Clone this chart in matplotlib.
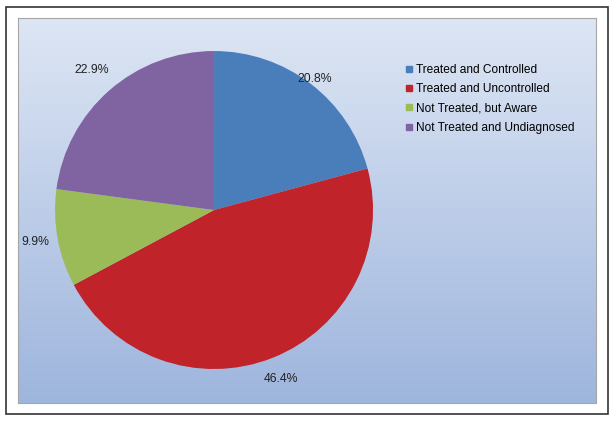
import numpy as np
import matplotlib
matplotlib.use("Agg")
import matplotlib.pyplot as plt
from matplotlib.patches import Rectangle
from matplotlib.lines import Line2D

plt.rcParams['font.family'] = ['Liberation Sans', 'DejaVu Sans']

categories = ["Treated and Controlled", "Treated and Uncontrolled",
              "Not Treated, but Aware", "Not Treated and Undiagnosed"]
values = [20.8, 46.4, 9.9, 22.9]
colors = ["#4a7ebb", "#c0232a", "#9bbb59", "#8064a2"]
label_dist = [1.04, 1.14, 1.14, 1.17]

fig = plt.figure(figsize=(6.14, 4.21), dpi=100)

# outer frame
fig.patches.append(Rectangle((0.0098, 0.0166), 0.980, 0.9667, transform=fig.transFigure,
                             fill=False, edgecolor="#333333", linewidth=1.2))

# gradient panel
bg = fig.add_axes([0.0293, 0.0428, 0.9414, 0.9145])
grad = np.linspace(0, 1, 256).reshape(-1, 1)
top = np.array([0.867, 0.902, 0.957])
bot = np.array([0.620, 0.710, 0.867])
img = top + (bot - top) * grad[:, :, None]
bg.imshow(img, aspect="auto", extent=[0, 1, 0, 1])
bg.set_xticks([])
bg.set_yticks([])
for s in bg.spines.values():
    s.set_edgecolor("#a6a6a6")
    s.set_linewidth(0.8)

ax = fig.add_axes([0.0896, 0.1235, 0.518, 0.7553])
wedges, _ = ax.pie(values, colors=colors, startangle=90, counterclock=False)
ax.set_xlim(-1, 1)
ax.set_ylim(-1, 1)
ax.set_aspect("equal")
ax.axis("off")

for w, v, d in zip(wedges, values, label_dist):
    ang = np.deg2rad((w.theta1 + w.theta2) / 2)
    ax.text(d * np.cos(ang), d * np.sin(ang), f"{v:.1f}%", ha="center", va="center",
            fontsize=8.8, color="#222222")

handles = [Line2D([], [], marker="s", linestyle="", markersize=4, color=c) for c in colors]
fig.legend(handles, categories, loc="upper left", bbox_to_anchor=(0.652, 0.86),
           frameon=False, fontsize=8.6, handlelength=0.6, handletextpad=0.3,
           labelspacing=0.62, borderaxespad=0)

fig.savefig("out.png", dpi=100)
